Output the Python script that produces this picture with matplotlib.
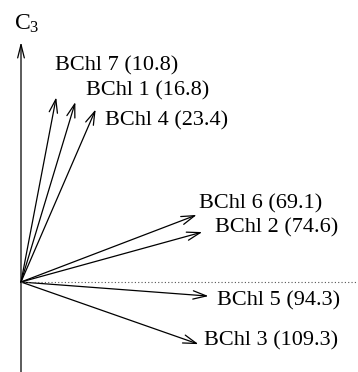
import numpy as np
import matplotlib
matplotlib.use("Agg")
import matplotlib.pyplot as plt
from matplotlib.patches import FancyArrowPatch

# angles of each BChl vector with the C3 axis (degrees)
names = ["BChl 7", "BChl 1", "BChl 4", "BChl 6", "BChl 2", "BChl 5", "BChl 3"]
angles = [10.8, 16.8, 23.4, 69.1, 74.6, 94.3, 109.3]
# label offsets from arrow tip, pixels (dx right, dy up)
offsets = [(-1, 31), (11, 11), (9, -11), (2, 11), (13, 4), (9, -5), (6, 3)]

plt.rcParams['font.family'] = ['Liberation Serif', 'DejaVu Serif']
plt.rcParams['mathtext.fontset'] = 'custom'
plt.rcParams['mathtext.rm'] = 'Liberation Serif'
plt.rcParams['mathtext.it'] = 'Liberation Serif'

W, H = 358, 372
ox, oy = 21, 282      # origin in pixels
unit = 188.0          # pixels per unit vector

fig = plt.figure(figsize=(W/100, H/100), dpi=100)
ax = fig.add_axes([0, 0, 1, 1])
ax.set_xlim(-ox/unit, (W-ox)/unit)
ax.set_ylim(-(H-oy)/unit, oy/unit)
ax.set_aspect('equal')
ax.axis('off')

# C3 axis
ax.add_patch(FancyArrowPatch((0, -(H-oy)/unit - 0.05), (0, (oy-42)/unit),
                             arrowstyle='->,head_length=0.8,head_width=0.2',
                             mutation_scale=12, lw=0.9, color='black',
                             shrinkA=0, shrinkB=0))
ax.text(-7/unit, (oy-24)/unit, "C$_3$", fontsize=17, ha='left', va='center')

# dotted reference line
ax.plot([0, (W-ox)/unit], [0, 0], ls=(0, (1, 2)), lw=0.8, color='#555555')

th = np.radians(angles)
xs = np.sin(th)
ys = np.cos(th)
for name, a, x, y, (dx, dy) in zip(names, angles, xs, ys, offsets):
    ax.add_patch(FancyArrowPatch((0, 0), (x, y),
                                 arrowstyle='->,head_length=0.8,head_width=0.25',
                                 mutation_scale=12, lw=0.9, color='black',
                                 shrinkA=0, shrinkB=0))
    ax.annotate(f"{name} ({a})", xy=(x, y), xytext=(dx, dy),
                textcoords='offset pixels', fontsize=16,
                ha='left', va='center')

fig.savefig("out.png", dpi=100)
